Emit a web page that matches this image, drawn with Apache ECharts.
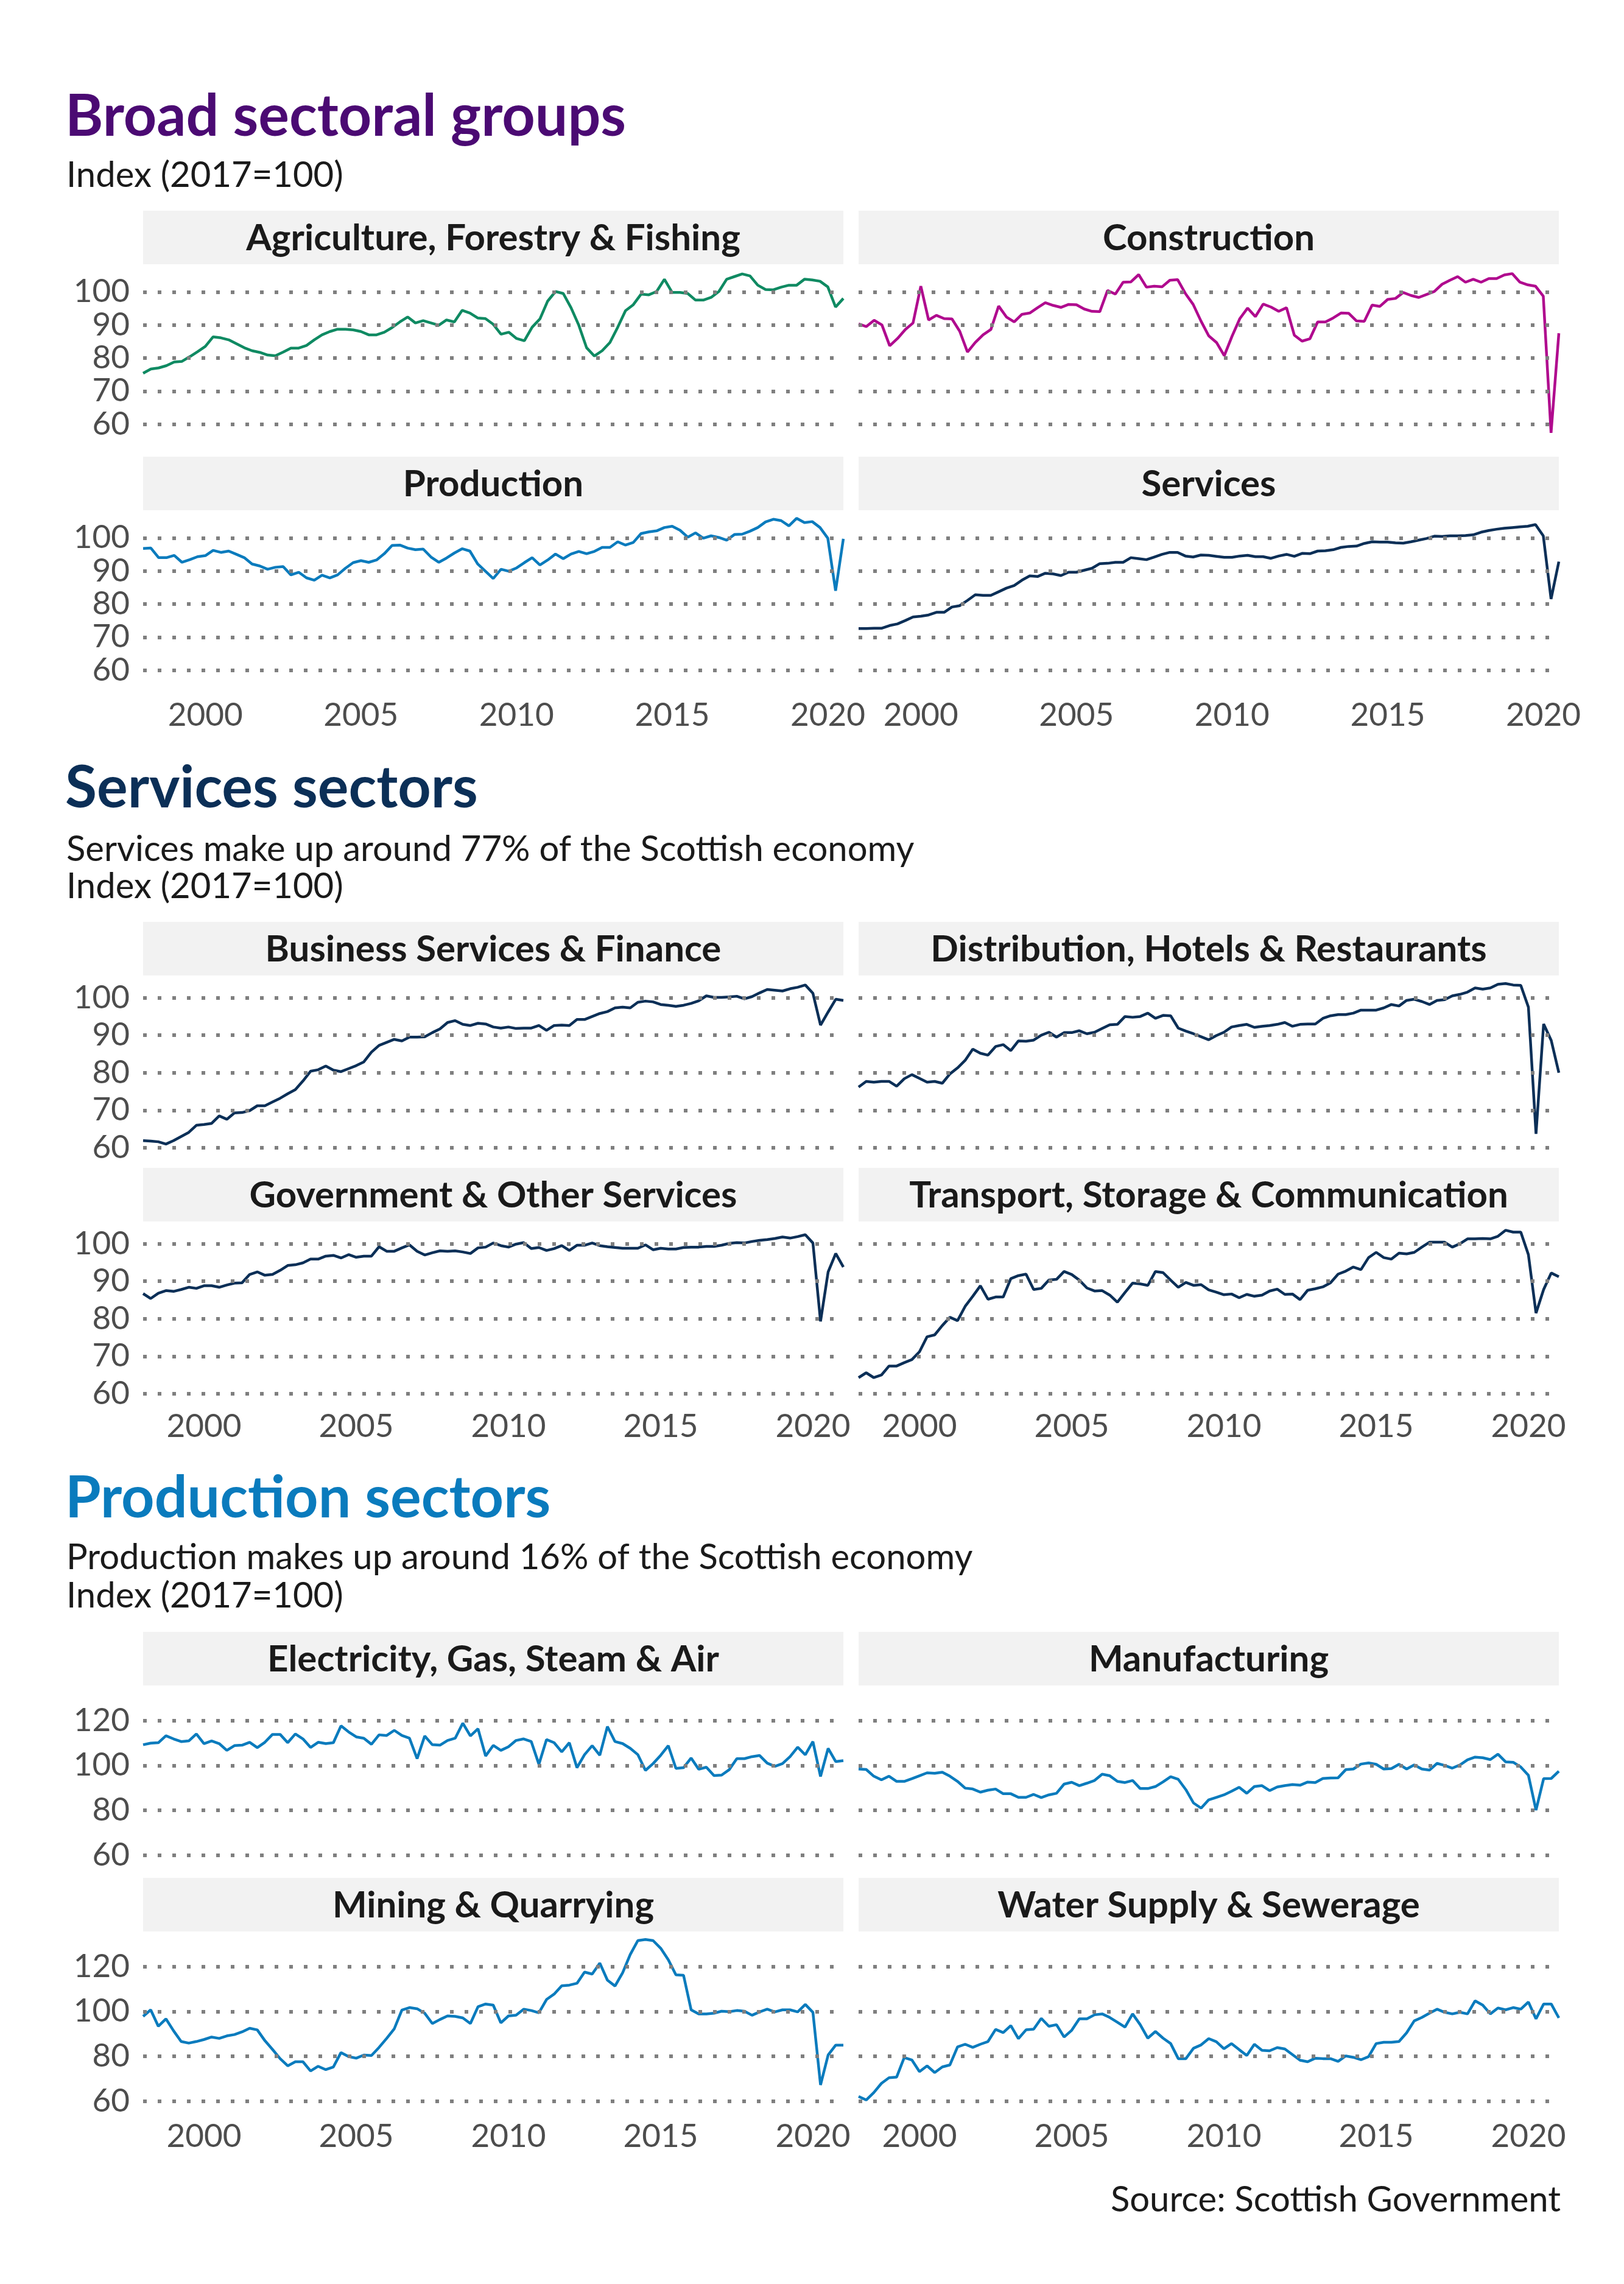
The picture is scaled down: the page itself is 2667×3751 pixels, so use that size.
<!DOCTYPE html>
<html><head><meta charset="utf-8">
<script src="https://cdn.jsdelivr.net/npm/echarts@6/dist/echarts.min.js"></script>
<style>html,body{margin:0;padding:0;background:#fff}#c{width:2667px;height:3751px}</style>
</head><body><div id="c"></div><script>
// ---- data (quarterly index, 2017=100) ----
const startYear = 1998;
const broadQuarters = 91;   // 1998 Q1 - 2020 Q3
const sectorQuarters = 93;  // 1998 Q1 - 2021 Q1
const yearTicks = ['2000', '2005', '2010', '2015', '2020'];
const yTicksBroad = [60, 70, 80, 90, 100];
const yTicksServices = [60, 70, 80, 90, 100];
const yTicksProduction = [60, 80, 100, 120];

const agriculture = [75.4,76.7,77.0,77.7,78.8,79.0,80.4,81.9,83.5,86.4,86.1,85.5,84.3,83.1,82.2,81.7,80.9,80.7,81.8,83.0,83.0,83.8,85.5,87.0,88.0,88.7,88.7,88.5,88.0,87.0,87.0,87.8,89.2,90.9,92.4,90.6,91.3,90.6,89.9,91.5,90.9,94.4,93.6,92.1,91.9,90.2,87.2,87.8,85.9,85.2,89.3,91.8,97.2,100.1,99.5,95.2,89.9,83.1,80.6,82.2,84.7,89.3,94.3,96.1,99.3,99.1,100.1,103.8,99.8,99.8,99.5,97.5,97.5,98.3,100.1,103.8,104.6,105.4,104.8,102.0,100.7,100.6,101.4,102.0,102.0,103.8,103.6,103.2,101.5,95.4,98.0];
const construction = [90.3,89.5,91.4,90.0,83.7,85.9,88.6,90.6,101.7,91.5,92.9,91.9,91.8,88.1,81.8,84.7,87.0,88.6,95.7,92.4,90.9,93.2,93.6,95.2,96.7,95.9,95.3,96.2,96.1,94.8,94.1,94.0,100.4,99.3,102.9,103.0,105.2,101.4,101.7,101.5,103.5,103.7,99.5,96.2,91.2,86.7,84.7,80.7,86.6,91.9,95.1,92.5,96.3,95.4,94.1,95.2,86.9,85.1,85.8,90.9,90.9,92.1,93.6,93.5,91.2,91.1,96.0,95.6,97.7,98.0,99.8,98.9,98.3,99.2,100.1,102.3,103.5,104.6,102.9,103.8,102.9,104.0,104.0,105.1,105.5,102.9,102.1,101.7,98.7,57.4,87.5];
const production = [96.8,96.9,94.0,94.0,94.7,92.6,93.4,94.3,94.6,96.2,95.6,96.0,95.0,94.0,92.1,91.5,90.5,91.1,91.3,88.8,89.6,87.9,87.2,88.7,87.9,88.8,90.8,92.5,93.1,92.6,93.3,95.2,97.7,97.8,96.9,96.4,96.6,94.2,92.6,93.9,95.4,96.7,96.0,92.1,89.9,87.7,90.5,89.9,90.9,92.5,94.0,91.8,93.3,95.1,93.7,95.1,95.9,95.2,95.9,97.1,97.1,98.8,97.8,98.6,101.3,101.8,102.1,103.1,103.5,102.3,100.2,101.5,99.9,100.6,100.1,99.3,101.0,101.1,102.0,103.1,104.8,105.6,105.2,103.6,105.9,104.6,104.9,103.1,99.9,84.0,99.7];
const services = [72.6,72.6,72.7,72.7,73.5,74.0,75.0,76.1,76.3,76.7,77.5,77.5,79.1,79.5,81.1,82.8,82.6,82.6,83.7,84.8,85.6,87.2,88.5,88.3,89.3,89.1,88.6,89.6,89.6,90.2,90.8,92.2,92.3,92.6,92.6,94.0,93.7,93.4,94.2,95.0,95.6,95.6,94.5,94.2,94.8,94.7,94.4,94.1,94.1,94.5,94.7,94.3,94.3,93.8,94.5,95.0,94.4,95.3,95.2,96.0,96.1,96.4,97.1,97.4,97.5,98.3,98.8,98.7,98.7,98.5,98.4,98.8,99.3,99.8,100.5,100.4,100.6,100.6,100.7,100.9,101.7,102.2,102.6,102.9,103.1,103.3,103.5,104.0,100.6,81.5,92.8];

const businessFinance = [61.9,61.8,61.6,61.0,61.9,63.0,64.1,66.0,66.2,66.5,68.5,67.6,69.3,69.4,69.9,71.2,71.2,72.2,73.2,74.4,75.5,77.8,80.4,80.8,81.8,80.7,80.3,81.1,81.9,82.9,85.5,87.3,88.1,88.9,88.5,89.5,89.5,89.6,90.7,91.7,93.4,93.9,92.9,92.6,93.2,93.0,92.2,91.9,92.2,91.8,91.9,91.9,92.6,91.3,92.6,92.7,92.6,94.2,94.2,95.0,95.8,96.3,97.3,97.5,97.3,98.8,99.1,98.9,98.2,98.0,97.7,98.0,98.5,99.2,100.5,100.1,100.1,100.2,100.4,99.7,100.3,101.3,102.2,102.0,101.8,102.4,102.8,103.4,101.2,92.7,96.2,99.6,99.3];
const distribution = [76.2,77.7,77.5,77.7,77.7,76.4,78.4,79.5,78.5,77.5,77.7,77.2,79.7,81.3,83.3,86.3,85.2,84.7,87.0,87.5,85.9,88.5,88.4,88.7,90.0,90.8,89.5,90.7,90.7,91.2,90.4,90.8,91.8,92.8,92.9,95.0,94.8,95.0,95.9,94.5,95.3,95.2,91.9,91.1,90.4,89.6,88.8,89.9,90.8,92.2,92.6,92.9,92.1,92.4,92.6,92.9,93.4,92.4,92.9,93.0,93.0,94.5,95.2,95.5,95.5,95.9,96.7,96.7,96.7,97.3,98.2,97.8,99.3,99.6,99.0,98.2,99.3,99.5,100.5,100.9,101.5,102.6,102.3,102.6,103.6,103.8,103.4,103.3,97.5,63.7,93.0,88.6,80.0];
const government = [86.7,85.4,86.8,87.5,87.3,87.8,88.4,88.1,88.8,88.8,88.4,89.0,89.5,89.6,91.8,92.5,91.6,91.8,92.9,94.2,94.4,94.9,95.9,95.9,96.7,96.9,96.2,97.1,96.4,96.7,96.7,99.2,98.0,98.0,98.9,99.7,98.0,97.0,97.6,98.1,98.0,98.1,97.8,97.4,98.9,99.1,100.2,99.5,99.1,99.9,100.3,98.7,99.0,98.2,98.7,99.5,98.2,99.6,99.6,100.2,99.5,99.2,99.0,98.8,98.8,98.8,99.7,98.4,98.8,98.6,98.6,99.0,99.1,99.1,99.3,99.3,99.6,100.1,100.3,100.2,100.6,100.9,101.1,101.4,101.8,101.5,101.9,102.4,100.2,79.3,92.5,97.4,93.8];
const transport = [64.3,65.6,64.3,65.0,67.4,67.4,68.3,69.1,71.2,75.2,75.7,78.2,80.4,79.5,83.3,86.0,88.8,85.2,85.8,85.8,90.7,91.5,91.9,87.8,88.1,90.3,90.5,92.6,91.8,90.3,88.2,87.4,87.5,86.3,84.4,87.0,89.5,89.3,88.9,92.6,92.3,90.3,88.4,89.7,88.9,89.1,87.7,87.1,86.4,86.6,85.6,86.5,86.0,86.3,87.4,87.9,86.5,86.6,85.1,87.6,88.0,88.5,89.6,91.9,92.7,93.8,93.1,96.3,97.7,96.3,95.9,97.5,97.3,97.7,99.1,100.4,100.4,100.4,99.1,100.0,101.3,101.3,101.4,101.3,102.0,103.6,103.1,103.1,97.1,81.5,87.8,92.2,91.2];

const electricity = [109.2,109.9,110.1,113.2,111.8,110.6,110.9,114.0,109.7,110.9,109.7,106.7,108.8,109.0,110.3,107.9,110.3,113.8,113.8,110.1,114.0,111.8,108.0,110.3,109.7,110.1,117.6,114.9,112.7,112.1,109.4,113.6,113.3,115.6,113.3,112.1,103.0,113.1,109.2,109.0,111.1,112.1,118.8,113.1,116.3,104.2,108.9,106.7,108.3,111.1,111.8,110.6,100.5,111.5,110.1,106.0,110.1,99.0,104.8,108.8,104.5,117.3,110.6,109.7,107.6,104.8,97.8,100.8,104.5,108.8,98.7,99.0,103.3,98.3,99.2,95.5,95.7,98.1,103.0,103.0,103.9,104.4,101.0,99.6,100.8,103.9,108.1,104.7,110.6,95.1,107.6,101.7,102.1];
const manufacturing = [98.4,98.2,95.2,93.6,95.2,92.9,92.9,94.1,95.4,96.7,96.5,97.0,95.2,92.9,89.9,89.5,88.1,89.0,89.5,87.4,87.4,85.8,85.8,87.1,85.7,86.9,87.6,91.7,92.5,91.0,92.1,93.3,96.1,95.4,92.9,92.4,93.3,89.7,89.7,90.6,92.7,95.0,93.8,89.2,83.3,81.0,84.7,85.8,86.9,88.5,90.3,87.6,90.6,91.0,88.8,90.4,91.0,91.5,91.2,92.6,92.4,94.2,94.4,94.5,98.1,98.4,100.6,101.1,100.5,98.4,98.6,100.5,98.4,100.2,98.4,97.9,100.9,100.0,98.8,100.2,102.5,103.7,103.4,102.6,105.0,101.6,101.4,99.3,95.6,80.1,94.1,94.2,97.4];
const mining = [97.8,100.7,93.4,96.7,91.4,86.6,85.9,86.6,87.5,88.6,88.0,89.1,89.7,90.9,92.5,91.8,87.0,83.1,79.0,75.8,77.6,77.6,73.5,75.6,74.1,75.3,81.7,79.9,79.2,80.6,80.4,84.0,88.0,92.3,100.6,101.7,101.2,99.2,94.6,96.4,98.0,97.8,97.1,94.6,102.1,103.3,102.8,94.9,98.0,98.3,101.0,100.4,99.4,105.3,107.7,111.4,111.7,112.5,117.5,116.6,121.5,113.9,111.3,117.2,125.3,131.5,132.0,131.5,128.1,123.0,116.3,116.1,100.7,98.9,98.9,99.2,100.1,99.9,100.4,100.1,98.3,99.8,101.0,99.8,100.7,100.7,99.8,103.1,99.6,67.3,80.6,85.0,85.0];
const water = [62.2,60.6,63.9,68.0,70.5,70.8,79.5,78.4,73.2,75.8,72.8,75.3,76.2,84.2,85.4,84.0,85.4,86.6,92.0,90.6,93.7,87.9,91.8,92.1,96.9,93.4,94.1,88.6,91.6,96.7,96.7,98.5,98.9,97.3,95.2,93.0,98.9,94.1,88.1,91.1,88.1,85.7,79.0,79.0,83.6,85.1,87.9,86.5,83.4,85.7,83.0,80.4,85.4,82.7,82.5,83.9,83.3,80.8,78.3,77.6,79.2,79.0,79.0,77.8,80.2,79.6,78.5,79.9,85.7,86.3,86.3,86.6,90.5,95.8,97.3,99.2,101.0,99.6,98.9,99.6,98.9,104.7,102.8,98.9,101.5,100.7,101.7,101.0,104.2,96.7,103.3,103.3,97.1];

// ---- layout / style ----
const FONT = 'Lato, "Open Sans", sans-serif';
const colX = [235, 1410];
const panelW = 1150;
const stripH = 88, panelH = 290, rowGap = 26;

function quarterCats(n) {
  const out = [];
  for (let i = 0; i < n; i++) out.push((startYear + Math.floor(i / 4)) + ' Q' + (i % 4 + 1));
  return out;
}

const sections = [
  { title: 'Broad sectoral groups', color: '#4b0a73', titleY: 192,
    sub: ['Index (2017=100)'], subY: [288], stripTop: 346, n: broadQuarters, ticks: yTicksBroad,
    panels: [
      { name: 'Agriculture, Forestry & Fishing', data: agriculture, color: '#0f8a62' },
      { name: 'Construction', data: construction, color: '#b00a8e' },
      { name: 'Production', data: production, color: '#0a7bbd' },
      { name: 'Services', data: services, color: '#0b2f57' } ] },
  { title: 'Services sectors', color: '#0b2f57', titleY: 1295,
    sub: ['Services make up around 77% of the Scottish economy', 'Index (2017=100)'], subY: [1395, 1456],
    stripTop: 1514, n: sectorQuarters, ticks: yTicksServices,
    panels: [
      { name: 'Business Services & Finance', data: businessFinance, color: '#0b2f57' },
      { name: 'Distribution, Hotels & Restaurants', data: distribution, color: '#0b2f57' },
      { name: 'Government & Other Services', data: government, color: '#0b2f57' },
      { name: 'Transport, Storage & Communication', data: transport, color: '#0b2f57' } ] },
  { title: 'Production sectors', color: '#0a7bbd', titleY: 2461,
    sub: ['Production makes up around 16% of the Scottish economy', 'Index (2017=100)'], subY: [2558, 2621],
    stripTop: 2680, n: sectorQuarters, ticks: yTicksProduction,
    panels: [
      { name: 'Electricity, Gas, Steam & Air', data: electricity, color: '#0a7bbd' },
      { name: 'Manufacturing', data: manufacturing, color: '#0a7bbd' },
      { name: 'Mining & Quarrying', data: mining, color: '#0a7bbd' },
      { name: 'Water Supply & Sewerage', data: water, color: '#0a7bbd' } ] }
];

const grids = [], xAxes = [], yAxes = [], series = [], graphics = [];

sections.forEach(sec => {
  graphics.push({ type: 'text', x: 107, y: sec.titleY, silent: true,
    style: { text: sec.title, fontFamily: FONT, fontWeight: 'bold', fontSize: 95, fill: sec.color, verticalAlign: 'middle', align: 'left' } });
  sec.sub.forEach((s, i) => graphics.push({ type: 'text', x: 109, y: sec.subY[i], silent: true,
    style: { text: s, fontFamily: FONT, fontSize: 58, fill: '#1a1a1a', verticalAlign: 'middle', align: 'left' } }));

  const all = sec.panels.flatMap(p => p.data);
  const lo = Math.min(...all), hi = Math.max(...all), pad = (hi - lo) * 0.05;
  const cats = quarterCats(sec.n);

  sec.panels.forEach((p, k) => {
    const row = Math.floor(k / 2), col = k % 2;
    const sTop = sec.stripTop + row * (stripH + panelH + rowGap);
    const pTop = sTop + stripH;
    const left = colX[col];
    graphics.push({ type: 'rect', silent: true, shape: { x: left, y: sTop, width: panelW, height: stripH }, style: { fill: '#f2f2f2' } });
    graphics.push({ type: 'text', silent: true, x: left + panelW / 2, y: sTop + stripH / 2 + 2,
      style: { text: p.name, fontFamily: FONT, fontWeight: 'bold', fontSize: 60, fill: '#1a1a1a', align: 'center', verticalAlign: 'middle' } });
    const gi = grids.length;
    grids.push({ left: left, top: pTop, width: panelW, height: panelH, containLabel: false });
    xAxes.push({ type: 'category', gridIndex: gi, data: cats, boundaryGap: false,
      axisLine: { show: false }, axisTick: { show: false }, splitLine: { show: false },
      axisLabel: { show: row === 1, interval: (i, v) => v.endsWith('Q1') && yearTicks.includes(v.slice(0, 4)),
        formatter: v => v.slice(0, 4), fontFamily: FONT, fontSize: 53, color: '#4d4d4d', margin: 20, hideOverlap: false } });
    yAxes.push({ type: 'value', gridIndex: gi, min: lo - pad, max: hi + pad,
      axisLine: { show: false }, axisTick: { show: false }, splitLine: { show: false },
      axisLabel: { show: col === 0, customValues: sec.ticks, fontFamily: FONT, fontSize: 53, color: '#4d4d4d', margin: 22 } });
    series.push({ type: 'line', xAxisIndex: gi, yAxisIndex: gi, data: p.data, showSymbol: false, symbol: 'none',
      lineStyle: { color: p.color, width: 4.5 }, itemStyle: { color: p.color }, animation: false, z: 3,
      markLine: { silent: true, symbol: ['none', 'none'], label: { show: false }, animation: false,
        lineStyle: { type: [6, 18], width: 6, color: '#7f7f7f', cap: 'butt' },
        emphasis: { disabled: true },
        data: sec.ticks.map(v => ({ yAxis: v })) } });
  });
});

graphics.push({ type: 'text', x: 2563, y: 3613, silent: true,
  style: { text: 'Source: Scottish Government', fontFamily: FONT, fontSize: 58, fill: '#1a1a1a', align: 'right', verticalAlign: 'middle' } });

const chart = echarts.init(document.getElementById('c'), null, { renderer: 'canvas' });
chart.setOption({ backgroundColor: '#ffffff', animation: false, grid: grids, xAxis: xAxes, yAxis: yAxes, series: series, graphic: graphics });
</script></body></html>
